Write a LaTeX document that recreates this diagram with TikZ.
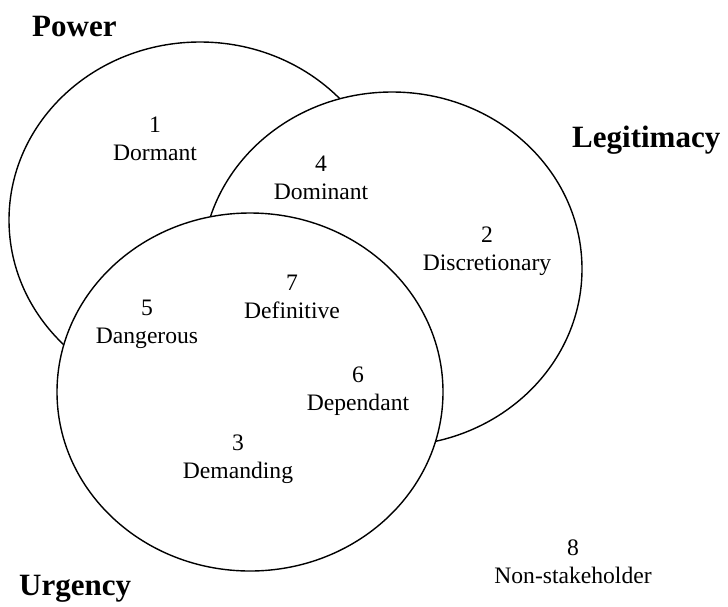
\documentclass[tikz,border=0pt]{standalone}
\usepackage{fontspec}
\setmainfont{Liberation Serif}
\begin{document}
\begin{tikzpicture}[x=1pt,y=-1pt,
  set/.style={draw=black,fill=white,line width=1.4pt},
  lbl/.style={inner sep=0pt,anchor=base,font=\fontsize{23.6}{28}\selectfont},
  title/.style={inner sep=0pt,anchor=base west,font=\fontsize{31}{37}\selectfont\bfseries}]
\useasboundingbox (0,0) rectangle (728,606);

% the three attribute sets, later ones overlapping earlier ones
\draw[set] (200,220) ellipse [x radius=191pt, y radius=178pt];
\draw[set] (392,269) ellipse [x radius=190pt, y radius=177pt];
\draw[set] (250,392) ellipse [x radius=193pt, y radius=179pt];

% set titles
\node[title] (power) at (32,36) {Power};
\node[title] (legit) at (572,147) {Legitimacy};
\node[title] (urg) at (19,595) {Urgency};

% stakeholder classes
\node[lbl] (n1) at (155,132) {1};
\node[lbl] (c1) at (155,160) {Dormant};
\node[lbl] (n4) at (321,171) {4};
\node[lbl] (c4) at (321,199) {Dominant};
\node[lbl] (n2) at (487,242) {2};
\node[lbl] (c2) at (487,270) {Discretionary};
\node[lbl] (n7) at (292,290) {7};
\node[lbl] (c7) at (292,318) {Definitive};
\node[lbl] (n5) at (147,315) {5};
\node[lbl] (c5) at (147,343) {Dangerous};
\node[lbl] (n6) at (358,382) {6};
\node[lbl] (c6) at (358,410) {Dependant};
\node[lbl] (n3) at (238,450) {3};
\node[lbl] (c3) at (238,478) {Demanding};
\node[lbl] (n8) at (573,555) {8};
\node[lbl] (c8) at (573,583) {Non-stakeholder};
\end{tikzpicture}
\end{document}
